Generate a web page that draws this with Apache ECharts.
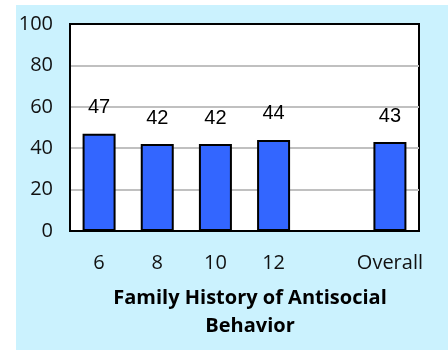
<!DOCTYPE html>
<html>
<head>
<meta charset="utf-8">
<script src="https://cdn.jsdelivr.net/npm/echarts@6/dist/echarts.min.js"></script>
<style>
  html, body { margin: 0; padding: 0; background: #ffffff; }
  #chart { width: 448px; height: 351px; }
</style>
</head>
<body>
<div id="chart"></div>
<script>
// Age groups (with an empty slot before the overall figure)
const categories = ['6', '8', '10', '12', '', 'Overall'];
// Percentage with a family history of antisocial behavior
const values = [47, 42, 42, 44, null, 43];
// Value axis ticks
const yTicks = [0, 20, 40, 60, 80, 100];

const chart = echarts.init(document.getElementById('chart'), null, { renderer: 'canvas' });

chart.setOption({
  backgroundColor: '#ffffff',
  animation: false,
  graphic: [{
    type: 'rect',
    z: -100,
    silent: true,
    shape: { x: 16, y: 5, width: 432, height: 345 },
    style: { fill: '#cbf2fe' }
  }],
  grid: {
    left: 70, top: 24, right: 29, bottom: 120,
    show: true,
    backgroundColor: '#ffffff',
    borderColor: '#000000',
    borderWidth: 2
  },
  xAxis: {
    type: 'category',
    data: categories,
    axisLine: { show: true, lineStyle: { color: '#000000', width: 2 } },
    axisTick: { show: false },
    axisLabel: {
      interval: 0,
      margin: 22,
      color: '#111111',
      fontFamily: 'Open Sans',
      fontSize: 20
    },
    name: 'Family History of Antisocial\nBehavior',
    nameLocation: 'middle',
    nameGap: 53,
    nameTextStyle: {
      color: '#000000',
      fontFamily: 'Open Sans',
      fontWeight: 'bold',
      fontSize: 20,
      lineHeight: 28,
      padding: [0, 0, 0, 11]
    }
  },
  yAxis: {
    type: 'value',
    min: yTicks[0],
    max: yTicks[yTicks.length - 1],
    interval: yTicks[1] - yTicks[0],
    axisLine: { show: true, lineStyle: { color: '#000000', width: 2 } },
    axisTick: { show: false },
    axisLabel: {
      margin: 17,
      color: '#111111',
      fontFamily: 'Open Sans',
      fontSize: 20
    },
    splitLine: {
      show: true,
      showMinLine: false,
      showMaxLine: false,
      lineStyle: { color: '#c0c0c0', width: 2 }
    }
  },
  series: [{
    type: 'bar',
    data: values,
    barWidth: 33,
    itemStyle: {
      color: '#3366ff',
      borderColor: '#000000',
      borderWidth: 2
    },
    label: {
      show: true,
      position: 'top',
      distance: 16,
      color: '#000000',
      fontFamily: 'Liberation Sans',
      fontSize: 20
    }
  }]
});
</script>
</body>
</html>
